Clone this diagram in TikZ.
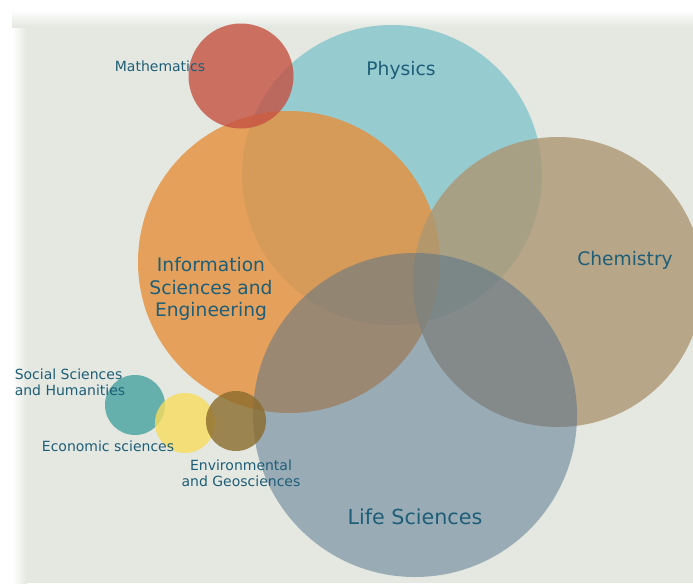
\documentclass[tikz,border=0pt]{standalone}
\usepackage{fontspec}
\setmainfont{DejaVu Sans}
\usepackage{xcolor}
\usepackage{tikz}
\usetikzlibrary{positioning}

\definecolor{panelbg}{RGB}{228,232,225}
\definecolor{labeltext}{RGB}{30,94,120}
\definecolor{physcol}{RGB}{131,196,204}
\definecolor{mathcol}{RGB}{197,81,66}
\definecolor{infocol}{RGB}{230,144,58}
\definecolor{chemcol}{RGB}{173,150,114}
\definecolor{lifecol}{RGB}{80,112,139}
\definecolor{socicol}{RGB}{70,161,160}
\definecolor{econcol}{RGB}{248,220,93}
\definecolor{envcol}{RGB}{139,107,44}

\begin{document}
\begin{tikzpicture}[
  x=0.75pt, y=-0.75pt,
  field/.style={circle, inner sep=0pt, fill opacity=0.8, draw=none},
  biglabel/.style={text=labeltext, font=\fontsize{14}{17}\selectfont, align=center},
  smalllabel/.style={text=labeltext, font=\fontsize{10.5}{12}\selectfont, align=center},
]

% === Page and panel ===
\useasboundingbox (0,0) rectangle (693,583);
\fill[white] (0,0) rectangle (693,583);
\fill[panelbg] (26,26) rectangle (693,583);
\shade[left color=white, right color=panelbg] (12,12) rectangle (27,583);
\shade[top color=white, bottom color=panelbg] (12,10) rectangle (693,27);

% === Large fields ===
\begin{scope}
\clip (0,0) rectangle (693,583);
\node[field, fill=physcol, minimum size=225pt] (phys) at (392,175) {};
\node[field, fill=infocol, minimum size=226.5pt] (info) at (289,262) {};
\node[field, fill=mathcol, minimum size=78.75pt] (math) at (241,76) {};
\node[field, fill=chemcol, minimum size=217.5pt] (chem) at (558,282) {};
\node[field, fill=lifecol, fill opacity=0.5, minimum size=243pt] (life) at (415,415) {};

% === Small fields ===
\node[field, fill=socicol, minimum size=45pt] (soci) at (135,405) {};
\node[field, fill=econcol, minimum size=45pt] (econ) at (185,423) {};
\node[field, fill=envcol, minimum size=45pt] (env) at (236,421) {};
\end{scope}

% === Labels ===
\node[smalllabel] (mathlbl) at (160,66) {Mathematics};
\node[biglabel] (physlbl) at (401,70) {Physics};
\node[biglabel] (chemlbl) at (625,260) {Chemistry};
\node[biglabel] (infolbl) at (211,289) {Information\\Sciences and\\Engineering};
\node[biglabel, font=\fontsize{15.5}{18}\selectfont] (lifelbl) at (415,517) {Life Sciences};
\node[smalllabel, align=left] (socilbl) at (70,382) {Social Sciences\\and Humanities};
\node[smalllabel] (econlbl) at (108,446) {Economic sciences};
\node[smalllabel] (envlbl) at (241,473) {Environmental\\and Geosciences};

\end{tikzpicture}
\end{document}
